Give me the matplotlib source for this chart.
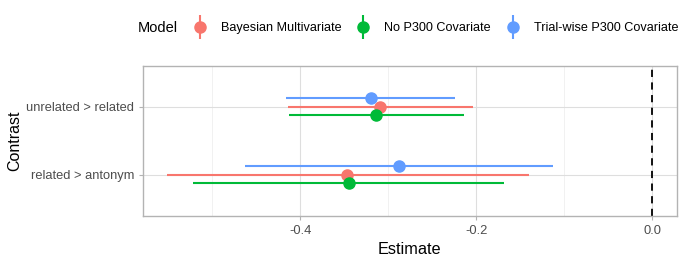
import matplotlib
matplotlib.use("Agg")
import matplotlib.pyplot as plt
from matplotlib.lines import Line2D
from matplotlib.legend_handler import HandlerTuple
from matplotlib.ticker import MultipleLocator

plt.rcParams['font.family'] = ['Liberation Sans', 'DejaVu Sans']

contrasts = ["unrelated > related", "related > antonym"]
models = ["Bayesian Multivariate", "No P300 Covariate", "Trial-wise P300 Covariate"]
colors = ["#F8766D", "#00BA38", "#619CFF"]

# estimate, lower, upper per model, ordered as contrasts
est = {
    "Bayesian Multivariate": [-0.310, -0.347],
    "No P300 Covariate": [-0.314, -0.345],
    "Trial-wise P300 Covariate": [-0.320, -0.288],
}
lower = {
    "Bayesian Multivariate": [-0.414, -0.551],
    "No P300 Covariate": [-0.413, -0.522],
    "Trial-wise P300 Covariate": [-0.416, -0.4625],
}
upper = {
    "Bayesian Multivariate": [-0.204, -0.140],
    "No P300 Covariate": [-0.214, -0.1685],
    "Trial-wise P300 Covariate": [-0.224, -0.113],
}
# vertical dodge (positive = downwards on the inverted axis)
dodge = {"Trial-wise P300 Covariate": -0.125, "Bayesian Multivariate": 0.0, "No P300 Covariate": 0.125}

fig = plt.figure(figsize=(6.85, 2.64), dpi=100)
ax = fig.add_axes([0.2088, 0.183, 0.7791, 0.568])

for m, c in zip(models, colors):
    ys = [i + dodge[m] for i in range(len(contrasts))]
    for y, lo, hi in zip(ys, lower[m], upper[m]):
        ax.plot([lo, hi], [y, y], color=c, lw=1.5, solid_capstyle="butt", zorder=3)
    ax.plot(est[m], ys, "o", color=c, ms=8, zorder=4)

ax.axvline(0, color="black", ls=(0, (4, 3)), lw=1.3, zorder=2)

ax.set_xlim(-0.5788, 0.0277)
ax.set_ylim(1.6, -0.6)
ax.set_yticks(range(len(contrasts)))
ax.set_yticklabels(contrasts)
ax.xaxis.set_major_locator(MultipleLocator(0.2))
ax.xaxis.set_minor_locator(MultipleLocator(0.1))
ax.xaxis.set_major_formatter(plt.FuncFormatter(lambda v, p: f"{v:.1f}".replace("-0.0", "0.0")))

ax.grid(which="major", color="#DEDEDE", lw=0.8, zorder=0)
ax.grid(which="minor", axis="x", color="#EFEFEF", lw=0.6, zorder=0)
ax.set_axisbelow(True)
for s in ax.spines.values():
    s.set_color("#B3B3B3")
    s.set_linewidth(1.0)
ax.tick_params(which="major", color="#B3B3B3", labelcolor="#4D4D4D", labelsize=9.3, length=3, width=0.8)
ax.tick_params(which="minor", length=0)

ax.set_xlabel("Estimate", fontsize=11.7, labelpad=4)
ax.set_ylabel("Contrast", fontsize=11.5, va="center")
ax.yaxis.set_label_coords(-0.2397, 0.5)

handles = []
for c in colors:
    vline = Line2D([], [], color=c, marker="|", ms=17, mew=1.5, ls="none")
    dot = Line2D([], [], color=c, marker="o", ms=8, ls="none")
    handles.append((vline, dot))
fig.text(0.201, 0.893, "Model", fontsize=10.5, va="center", ha="left")
fig.legend(handles, models, handler_map={tuple: HandlerTuple(ndivide=1)},
           loc="center left", bbox_to_anchor=(0.2826, 0.893), ncol=3, frameon=False,
           fontsize=9.1, handlelength=1.0, handletextpad=1.16, columnspacing=1.24,
           borderaxespad=0, borderpad=0)

fig.savefig("out.png", dpi=100)
